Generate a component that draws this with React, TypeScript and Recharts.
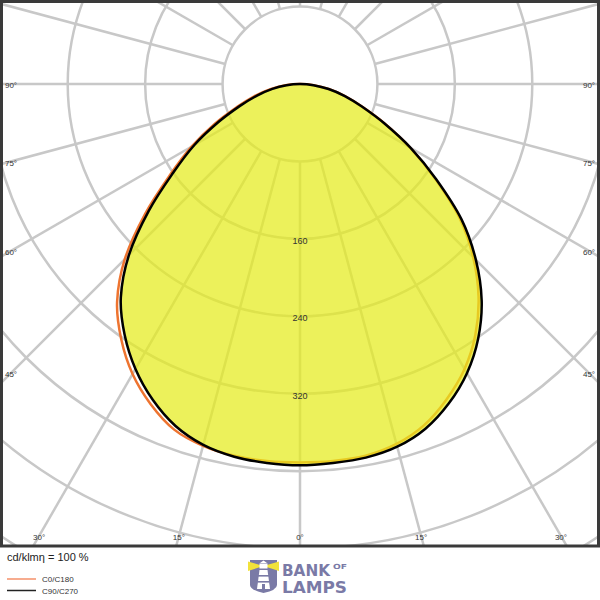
import React from 'react';
import { RadarChart, Radar, PolarGrid, PolarAngleAxis, PolarRadiusAxis } from 'recharts';

// luminous intensity in cd/klm at gamma = 0..90 deg
const gammas = [0, 5, 10, 15, 20, 25, 30, 35, 40, 45, 50, 55, 60, 65, 70, 75, 80, 85, 90];
const c0 = [391, 391, 390, 385, 375, 359, 340, 316, 287, 253, 215, 170, 131, 96, 68, 48, 30, 14, 0];
const c180 = [391, 391, 390, 387, 380, 365, 346, 322, 294, 256, 209, 164, 129, 97, 69, 49, 31, 15, 0];
const c90 = [394, 393, 392, 388, 379, 364, 345, 321, 292, 257, 218, 172, 132, 96, 68, 48, 30, 14, 0];
const c270 = [394, 393, 391, 386, 376, 360, 340, 316, 288, 250, 204, 160, 126, 93, 66, 46, 29, 14, 0];

const radiusTicks = [80, 160, 240, 320, 400, 480, 560];
const radiusLabels = [160, 240, 320];
const sideLabels = [90, 75, 60, 45, 30, 15];
const spokeAngles = [0, 15, 30, 45, 60, 75, 90, 105, 120, 135, 150, 165, 180, 195, 210, 225, 240, 255, 270, 285, 300, 315, 330, 345];

const W = 600;
const PLOT_H = 546;
const CX = 300;
const CY = 84;
const R_MAX = 560;
const R_OUT = 542;
const GRID = '#c8c8c8';
const FONT = '"Liberation Sans", Arial, sans-serif';
const LOGO = '#7a7aa6';
const LOGO_FONT = '"DejaVu Sans", sans-serif';

// walk round the circle: left half (C180 / C270) from nadir to zenith, then right half (C0 / C90) back down
const valueAt = (arr: number[], g: number) => {
  const i = gammas.indexOf(g);
  return i < 0 ? 0 : arr[i];
};
const rows: { key: string; orange: number; black: number }[] = [];
for (let i = 0; i < 72; i++) {
  const left = i <= 36;
  const g = left ? i * 5 : 360 - i * 5;
  rows.push({
    key: (left ? 'L' : 'R') + g,
    orange: valueAt(left ? c180 : c0, g),
    black: valueAt(left ? c270 : c90, g),
  });
}

// closed Catmull-Rom curve through the radar points (recharts gives the pixel positions)
const SmoothPolygon = (props: any) => {
  const { points, stroke, strokeWidth, fill, fillOpacity } = props;
  if (!points || !points.length) return null;
  const pts: { x: number; y: number }[] = [];
  points.forEach((p: any) => {
    const last = pts[pts.length - 1];
    if (!last || Math.hypot(last.x - p.x, last.y - p.y) > 0.01) pts.push({ x: p.x, y: p.y });
  });
  while (pts.length > 1 && Math.hypot(pts[0].x - pts[pts.length - 1].x, pts[0].y - pts[pts.length - 1].y) < 0.01) pts.pop();
  const n = pts.length;
  const at = (i: number) => pts[(i + n) % n];
  let d = `M${pts[0].x},${pts[0].y}`;
  for (let i = 0; i < n; i++) {
    const p0 = at(i - 1), p1 = at(i), p2 = at(i + 1), p3 = at(i + 2);
    const c1x = p1.x + (p2.x - p0.x) / 6, c1y = p1.y + (p2.y - p0.y) / 6;
    const c2x = p2.x - (p3.x - p1.x) / 6, c2y = p2.y - (p3.y - p1.y) / 6;
    d += `C${c1x},${c1y} ${c2x},${c2y} ${p2.x},${p2.y}`;
  }
  d += 'Z';
  return <path d={d} stroke={stroke} strokeWidth={strokeWidth} fill={fill} fillOpacity={fillOpacity} strokeLinejoin="round" />;
};

const RadiusTick = (props: any) => {
  const { x, y, payload } = props;
  if (!radiusLabels.includes(payload.value)) return null;
  return (
    <text x={x} y={y + 5} textAnchor="middle" fontSize={9} fontFamily={FONT} fill="#333">
      {payload.value}
    </text>
  );
};

// angle labels sit on the spokes, just inside the frame
const EDGE = 11;
const BOTTOM_Y = 536;
const angleLabelPos = (g: number, side: number) => {
  const t = Math.tan((g * Math.PI) / 180);
  if (g >= 45) {
    const y = g === 90 ? CY : CY + (CX - EDGE) / t;
    return { x: side < 0 ? EDGE : W - EDGE, y };
  }
  return { x: CX + side * (BOTTOM_Y - CY) * t, y: BOTTOM_Y };
};

const Logo = () => (
  <g>
    <path d="M250 560 L277 560 L277 585 Q277 590 263.5 593 Q250 590 250 585 Z" fill={LOGO} />
    <polygon points="263.5,566 248,561.5 248,571" fill="#f2e23a" />
    <polygon points="263.5,566 279,561.5 279,571" fill="#f2e23a" />
    <polygon points="260,563 263.5,560.5 267,563" fill="#fff" />
    <rect x={259.5} y={563.5} width={8} height={5} fill="#fff" />
    <polygon points="259.5,570 267.5,570 270,589 257,589" fill="#fff" />
    <rect x={258} y={575} width={11} height={1.6} fill={LOGO} />
    <rect x={257.5} y={581} width={12} height={1.6} fill={LOGO} />
    <rect x={262} y={584} width={3} height={5} fill={LOGO} />
    <text x={282} y={575.5} fontSize={15} fontWeight="bold" fontFamily={LOGO_FONT} fill={LOGO}
      textLength={48} lengthAdjust="spacingAndGlyphs">BANK</text>
    <text x={333} y={568.5} fontSize={7} fontWeight="bold" fontFamily={LOGO_FONT} fill={LOGO}
      textLength={14} lengthAdjust="spacingAndGlyphs">OF</text>
    <text x={282} y={593} fontSize={15} fontWeight="bold" fontFamily={LOGO_FONT} fill={LOGO}
      textLength={65} lengthAdjust="spacingAndGlyphs">LAMPS</text>
  </g>
);

export default function App() {
  const layer: React.CSSProperties = { position: 'absolute', top: 0, left: 0 };
  return (
    <div style={{ position: 'absolute', top: 0, left: 0, width: W, height: 600, background: '#fff', overflow: 'hidden' }}>
      {/* spokes start at the 80 cd ring */}
      <div style={layer}>
        <RadarChart width={W} height={PLOT_H} data={rows} cx={CX} cy={CY}
          innerRadius={(R_OUT * 80) / R_MAX} outerRadius={800}
          startAngle={-90} endAngle={-450} margin={{ top: 0, right: 0, bottom: 0, left: 0 }}>
          <PolarGrid gridType="circle" polarAngles={spokeAngles} polarRadius={[]} stroke={GRID} strokeWidth={2.5} />
        </RadarChart>
      </div>
      <div style={layer}>
        <RadarChart width={W} height={PLOT_H} data={rows} cx={CX} cy={CY}
          innerRadius={0} outerRadius={R_OUT}
          startAngle={-90} endAngle={-450} margin={{ top: 0, right: 0, bottom: 0, left: 0 }}>
          <PolarGrid gridType="circle" radialLines={false} stroke={GRID} strokeWidth={2.5} />
          <PolarAngleAxis dataKey="key" tick={false} tickLine={false} axisLine={false} />
          <Radar dataKey="orange" stroke="#ee7430" strokeWidth={2.5} fill="none" fillOpacity={0}
            dot={false} activeDot={false} isAnimationActive={false} shape={<SmoothPolygon />} />
          <Radar dataKey="black" stroke="#000" strokeWidth={2.5} fill="#e4ec1c" fillOpacity={0.72}
            dot={false} activeDot={false} isAnimationActive={false} shape={<SmoothPolygon />} />
          <PolarRadiusAxis angle={-90} domain={[0, R_MAX]} ticks={radiusTicks} axisLine={false}
            tickLine={false} tick={<RadiusTick />} />
        </RadarChart>
      </div>
      <svg style={{ ...layer, pointerEvents: 'none' }} width={W} height={600}>
        <rect x={1.5} y={1.5} width={597} height={544.5} fill="none" stroke="#3a3a3a" strokeWidth={3} />
        {sideLabels.map((g) => {
          const l = angleLabelPos(g, -1);
          const r = angleLabelPos(g, 1);
          return (
            <g key={g} fontSize={8} fontFamily={FONT} fill="#333" textAnchor="middle">
              <text x={l.x} y={l.y + 4.4}>{g}°</text>
              <text x={r.x} y={r.y + 4.4}>{g}°</text>
            </g>
          );
        })}
        <text x={CX} y={BOTTOM_Y + 4.4} fontSize={8} fontFamily={FONT} fill="#333" textAnchor="middle">0°</text>

        <text x={7} y={561} fontSize={11} fontFamily={FONT} fill="#222">cd/klmη = 100 %</text>
        <line x1={7} x2={36} y1={579} y2={579} stroke="#f4906a" strokeWidth={1.5} />
        <text x={42} y={582} fontSize={8} fontFamily={FONT} fill="#333">C0/C180</text>
        <line x1={7} x2={36} y1={590.5} y2={590.5} stroke="#222" strokeWidth={1.5} />
        <text x={42} y={593.5} fontSize={8} fontFamily={FONT} fill="#333">C90/C270</text>
        <Logo />
      </svg>
    </div>
  );
}
